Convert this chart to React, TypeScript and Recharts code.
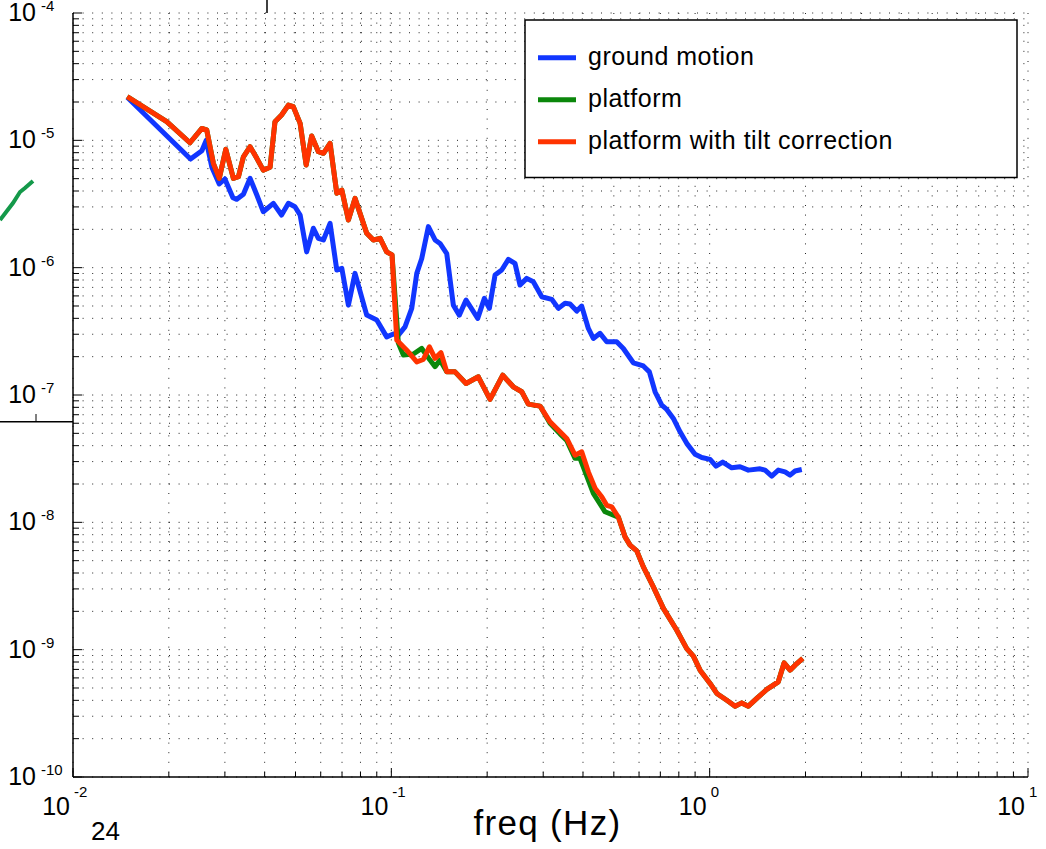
import React from 'react';
import { LineChart, Line, XAxis, YAxis, CartesianGrid, Legend } from 'recharts';

// [freq Hz, amplitude]
const groundMotion: [number, number][] = [
  [0.0148, 2.18e-5], [0.0234, 7.13e-6], [0.0254, 8.29e-6], [0.0262, 1.0e-5], [0.0273, 6.14e-6],
  [0.0288, 4.54e-6], [0.03, 4.97e-6], [0.0318, 3.54e-6], [0.0327, 3.44e-6], [0.0343, 3.77e-6],
  [0.036, 5.03e-6], [0.0378, 3.72e-6], [0.0396, 2.75e-6], [0.0426, 3.2e-6], [0.0452, 2.59e-6],
  [0.0475, 3.2e-6], [0.0498, 3.01e-6], [0.0517, 2.59e-6], [0.0542, 1.33e-6], [0.0569, 2.04e-6],
  [0.059, 1.7e-6], [0.0612, 1.65e-6], [0.0642, 2.23e-6], [0.0674, 9.58e-7], [0.0699, 9.87e-7],
  [0.0733, 5.08e-7], [0.0769, 9.02e-7], [0.0837, 4.24e-7], [0.09, 3.88e-7], [0.0967, 2.86e-7],
  [0.1015, 3.01e-7], [0.1052, 2.95e-7], [0.1104, 3.43e-7], [0.1159, 4.79e-7], [0.1202, 9.02e-7],
  [0.1246, 1.18e-6], [0.1307, 2.1e-6], [0.1372, 1.65e-6], [0.1422, 1.55e-6], [0.1493, 1.29e-6],
  [0.1566, 5.08e-7], [0.1635, 4.24e-7], [0.1717, 5.57e-7], [0.1868, 4.0e-7], [0.196, 5.74e-7],
  [0.2032, 4.79e-7], [0.2117, 8.75e-7], [0.2222, 9.58e-7], [0.2332, 1.16e-6], [0.2446, 1.08e-6],
  [0.2537, 7.3e-7], [0.2663, 8.24e-7], [0.2793, 7.75e-7], [0.2969, 5.91e-7], [0.319, 5.64e-7],
  [0.3347, 4.79e-7], [0.3513, 5.25e-7], [0.3642, 5.18e-7], [0.3824, 4.56e-7], [0.3963, 4.99e-7],
  [0.4158, 3.33e-7], [0.4311, 2.78e-7], [0.4525, 3.05e-7], [0.475, 2.62e-7], [0.5105, 2.62e-7],
  [0.5356, 2.32e-7], [0.5757, 1.79e-7], [0.6189, 1.69e-7], [0.6465, 1.52e-7], [0.6738, 1.06e-7],
  [0.7071, 8.33e-8], [0.7331, 7.7e-8], [0.7691, 6.55e-8], [0.8072, 5.14e-8], [0.8472, 4.17e-8],
  [0.8997, 3.43e-8], [0.9445, 3.23e-8], [1.003, 3.12e-8], [1.047, 2.76e-8], [1.099, 2.97e-8],
  [1.173, 2.68e-8], [1.246, 2.73e-8], [1.323, 2.57e-8], [1.44, 2.63e-8], [1.493, 2.57e-8],
  [1.567, 2.31e-8], [1.643, 2.57e-8], [1.725, 2.49e-8], [1.789, 2.35e-8], [1.855, 2.53e-8],
  [1.947, 2.6e-8],
];

const platform: [number, number][] = [
  [0.0148, 2.2e-5], [0.0197, 1.4e-5], [0.0233, 9.57e-6], [0.0254, 1.24e-5], [0.0263, 1.21e-5],
  [0.0276, 6.6e-6], [0.0288, 5.03e-6], [0.0302, 8.5e-6], [0.0319, 5.03e-6], [0.0331, 5.18e-6],
  [0.0343, 7.43e-6], [0.036, 8.91e-6], [0.0378, 7.22e-6], [0.0396, 5.84e-6], [0.0416, 6.14e-6],
  [0.0431, 1.4e-5], [0.0452, 1.58e-5], [0.0475, 1.89e-5], [0.0492, 1.84e-5], [0.0517, 1.36e-5],
  [0.054, 6.4e-6], [0.0562, 1.08e-5], [0.059, 8.14e-6], [0.0612, 7.91e-6], [0.0642, 9.47e-6],
  [0.0674, 3.84e-6], [0.0699, 4.07e-6], [0.0733, 2.37e-6], [0.0769, 3.5e-6], [0.0837, 1.86e-6],
  [0.0878, 1.65e-6], [0.0922, 1.7e-6], [0.0967, 1.33e-6], [0.1005, 1.26e-6], [0.1052, 2.56e-7],
  [0.1091, 2.06e-7], [0.1173, 2.1e-7], [0.1246, 2.32e-7], [0.1323, 1.88e-7], [0.1372, 1.67e-7],
  [0.1422, 1.88e-7], [0.1493, 1.52e-7], [0.1585, 1.52e-7], [0.1717, 1.23e-7], [0.1876, 1.39e-7],
  [0.2042, 9.23e-8], [0.2239, 1.43e-7], [0.2416, 1.16e-7], [0.2569, 1.06e-7], [0.2694, 8.48e-8],
  [0.2932, 8.18e-8], [0.3151, 6.0e-8], [0.3388, 4.95e-8], [0.3556, 4.4e-8], [0.3776, 3.18e-8],
  [0.3915, 3.18e-8], [0.4311, 1.69e-8], [0.4692, 1.21e-8], [0.5165, 1.1e-8], [0.5423, 7.69e-9],
  [0.5622, 6.62e-9], [0.5902, 5.97e-9], [0.6189, 4.47e-9], [0.6654, 3.11e-9], [0.7155, 2.11e-9],
  [0.7882, 1.42e-9], [0.8472, 1.02e-9], [0.8888, 8.89e-10], [0.9328, 6.9e-10], [1.003, 5.43e-10],
  [1.053, 4.53e-10], [1.132, 4.01e-10], [1.202, 3.6e-10], [1.261, 3.82e-10], [1.323, 3.6e-10],
  [1.406, 4.14e-10], [1.512, 4.87e-10], [1.643, 5.59e-10], [1.713, 7.87e-10], [1.789, 6.9e-10],
  [1.855, 7.56e-10], [1.961, 8.53e-10],
];

const platformTilt: [number, number][] = [
  [0.0148, 2.2e-5], [0.0197, 1.4e-5], [0.0233, 9.57e-6], [0.0254, 1.24e-5], [0.0263, 1.21e-5],
  [0.0276, 6.6e-6], [0.0288, 5.03e-6], [0.0302, 8.5e-6], [0.0319, 5.03e-6], [0.0331, 5.18e-6],
  [0.0343, 7.43e-6], [0.036, 8.91e-6], [0.0378, 7.22e-6], [0.0396, 5.84e-6], [0.0416, 6.14e-6],
  [0.0431, 1.4e-5], [0.0452, 1.58e-5], [0.0475, 1.89e-5], [0.0492, 1.84e-5], [0.0517, 1.36e-5],
  [0.054, 6.4e-6], [0.0562, 1.08e-5], [0.059, 8.14e-6], [0.0612, 7.91e-6], [0.0642, 9.47e-6],
  [0.0674, 3.84e-6], [0.0699, 4.07e-6], [0.0733, 2.37e-6], [0.0769, 3.5e-6], [0.0837, 1.86e-6],
  [0.0878, 1.65e-6], [0.0922, 1.7e-6], [0.0967, 1.33e-6], [0.1005, 1.26e-6], [0.104, 2.7e-7],
  [0.1118, 2.25e-7], [0.1202, 1.82e-7], [0.126, 1.9e-7], [0.1317, 2.39e-7], [0.1372, 1.94e-7],
  [0.1432, 2.15e-7], [0.1493, 1.52e-7], [0.1585, 1.52e-7], [0.1717, 1.23e-7], [0.1876, 1.39e-7],
  [0.2042, 9.23e-8], [0.2239, 1.43e-7], [0.2416, 1.16e-7], [0.2569, 1.06e-7], [0.2694, 8.48e-8],
  [0.2932, 8.18e-8], [0.3151, 6.16e-8], [0.3388, 5.14e-8], [0.3556, 4.56e-8], [0.3776, 3.37e-8],
  [0.3963, 3.58e-8], [0.4158, 2.49e-8], [0.4365, 1.85e-8], [0.4581, 1.59e-8], [0.475, 1.36e-8],
  [0.4926, 1.32e-8], [0.5165, 1.1e-8], [0.5423, 7.69e-9], [0.5622, 6.62e-9], [0.5902, 5.97e-9],
  [0.6189, 4.47e-9], [0.6654, 3.11e-9], [0.7155, 2.11e-9], [0.7882, 1.42e-9], [0.8472, 1.02e-9],
  [0.8888, 8.89e-10], [0.9328, 6.9e-10], [1.003, 5.43e-10], [1.053, 4.53e-10], [1.132, 4.01e-10],
  [1.202, 3.6e-10], [1.261, 3.82e-10], [1.323, 3.6e-10], [1.406, 4.14e-10], [1.512, 4.87e-10],
  [1.643, 5.59e-10], [1.713, 7.87e-10], [1.789, 6.9e-10], [1.855, 7.56e-10], [1.961, 8.53e-10],
];

const seriesNames = ['ground motion', 'platform', 'platform with tilt correction'];
const seriesColors = ['#1136ff', '#0b870b', '#ff3300'];

const xDecades = [-2, -1, 0, 1];
const yDecades = [-10, -9, -8, -7, -6, -5, -4];
const xLabel = 'freq (Hz)';

const FONT = '"Liberation Sans", Arial, Helvetica, sans-serif';

// major + minor (1..9) positions for ticks and the dotted grid
function logTicks(decades: number[]) {
  const out: number[] = [];
  decades.forEach((d, i) => {
    const steps = i === decades.length - 1 ? [1] : [1, 2, 3, 4, 5, 6, 7, 8, 9];
    steps.forEach((k) => out.push(Number((k * Math.pow(10, d)).toPrecision(3))));
  });
  return out;
}
const xTicks = logTicks(xDecades);
const yTicks = logTicks(yDecades);

const isDecade = (v: number) => Math.abs(Math.log10(v) - Math.round(Math.log10(v))) < 1e-6;
const expOf = (v: number) => String(Math.round(Math.log10(v)));

const toPoints = (arr: [number, number][]) => arr.map(([f, v]) => ({ f, v }));

function BottomTick({ x, y, payload }: any) {
  const v = payload.value;
  const major = isDecade(v);
  return (
    <g>
      <line x1={x} y1={y} x2={x} y2={y - (major ? 9 : 5)} stroke="#000" strokeWidth={1} />
      {major && (
        <g fontFamily={FONT} fill="#000">
          <text x={x - 3} y={y + 38} textAnchor="end" fontSize={25}>10</text>
          <text x={x + 1} y={y + 20} textAnchor="start" fontSize={15}>{expOf(v)}</text>
        </g>
      )}
    </g>
  );
}

function TopTick({ x, y, payload }: any) {
  const major = isDecade(payload.value);
  return <line x1={x} y1={y} x2={x} y2={y + (major ? 9 : 5)} stroke="#000" strokeWidth={1} />;
}

function LeftTick({ x, y, payload }: any) {
  const v = payload.value;
  const major = isDecade(v);
  return (
    <g>
      <line x1={x} y1={y} x2={x + (major ? 9 : 6)} y2={y} stroke="#000" strokeWidth={1} />
      {major && (
        <g fontFamily={FONT} fill="#000">
          <text x={x - 37} y={y + 8} textAnchor="end" fontSize={25}>10</text>
          <text x={x - 32} y={y - 2} textAnchor="start" fontSize={15}>{expOf(v)}</text>
        </g>
      )}
    </g>
  );
}

function RightTick({ x, y, payload }: any) {
  const major = isDecade(payload.value);
  return <line x1={x} y1={y} x2={x - (major ? 9 : 6)} y2={y} stroke="#000" strokeWidth={1} />;
}

function AxisTitle({ viewBox }: any) {
  const { x, y, width } = viewBox;
  return (
    <text x={x + width / 2 - 3} y={y + 58} textAnchor="middle" fontSize={35} letterSpacing={1.3} fontFamily={FONT} fill="#000">
      {xLabel}
    </text>
  );
}

function LegendBox() {
  return (
    <svg width={496} height={161} style={{ display: 'block' }}>
      <rect x={1} y={1} width={492} height={157.5} fill="#fff" stroke="#000" strokeWidth={1.5} />
      {seriesNames.map((name, i) => (
        <g key={name}>
          <line x1={14} x2={52} y1={38.7 + 42 * i} y2={38.7 + 42 * i} stroke={seriesColors[i]} strokeWidth={5} />
          <text x={64} y={46 + 42 * i} fontSize={25} letterSpacing={0.5} fontFamily={FONT} fill="#000">
            {name}
          </text>
        </g>
      ))}
    </svg>
  );
}

const axisLine = { stroke: '#000', strokeWidth: 1.5 };

export default function App() {
  const series = [groundMotion, platform, platformTilt];
  return (
    <div style={{ position: 'absolute', left: 0, top: 0, width: 1046, height: 849, background: '#fff' }}>
      <LineChart width={1046} height={849} margin={{ top: 13, right: 18, bottom: 0, left: 13 }}>
        <CartesianGrid
          verticalValues={xTicks}
          horizontalValues={yTicks}
          stroke="#222"
          strokeWidth={1}
          strokeDasharray="1 8.6"
        />
        <XAxis
          dataKey="f"
          type="number"
          scale="log"
          domain={[0.01, 10]}
          allowDataOverflow
          ticks={xTicks}
          interval={0}
          height={72}
          tickSize={0}
          tickMargin={0}
          tickLine={false}
          axisLine={axisLine}
          tick={(p: any) => <BottomTick {...p} />}
          label={<AxisTitle />}
        />
        <XAxis
          xAxisId="top"
          orientation="top"
          dataKey="f"
          type="number"
          scale="log"
          domain={[0.01, 10]}
          allowDataOverflow
          ticks={xTicks}
          interval={0}
          height={0}
          tickSize={0}
          tickMargin={0}
          tickLine={false}
          axisLine={axisLine}
          tick={(p: any) => <TopTick {...p} />}
        />
        <YAxis
          dataKey="v"
          type="number"
          scale="log"
          domain={[1e-10, 1e-4]}
          allowDataOverflow
          ticks={yTicks}
          interval={0}
          width={60}
          tickSize={0}
          tickMargin={0}
          tickLine={false}
          axisLine={axisLine}
          tick={(p: any) => <LeftTick {...p} />}
        />
        <YAxis
          yAxisId="right"
          orientation="right"
          dataKey="v"
          type="number"
          scale="log"
          domain={[1e-10, 1e-4]}
          allowDataOverflow
          ticks={yTicks}
          interval={0}
          width={0}
          tickSize={0}
          tickMargin={0}
          tickLine={false}
          axisLine={axisLine}
          tick={(p: any) => <RightTick {...p} />}
        />
        <Legend
          layout="horizontal"
          verticalAlign="middle"
          align="center"
          content={() => <LegendBox />}
          wrapperStyle={{ position: 'absolute', left: 524, top: 19, width: 496, height: 161, margin: 0 }}
        />
        {series.map((s, i) => (
          <Line
            key={seriesNames[i]}
            name={seriesNames[i]}
            data={toPoints(s)}
            dataKey="v"
            type="linear"
            stroke={seriesColors[i]}
            strokeWidth={5}
            strokeLinejoin="round"
            dot={false}
            activeDot={false}
            isAnimationActive={false}
          />
        ))}
      </LineChart>
      {/* leftovers of a neighbouring figure in the original image */}
      <svg
        width={1046}
        height={849}
        style={{ position: 'absolute', left: 0, top: 0, pointerEvents: 'none' }}
      >
        <line x1={0} y1={421.7} x2={73} y2={421.7} stroke="#000" strokeWidth={1.5} />
        <line x1={36} y1={414} x2={36} y2={421.7} stroke="#000" strokeWidth={1} />
        <line x1={267} y1={0} x2={267} y2={13} stroke="#000" strokeWidth={1.5} />
        <polyline points="0,220 13,203 20,192 25,188 33,181" fill="none" stroke="#14994a" strokeWidth={4} />
        <text x={91} y={840} fontSize={26} fontFamily={FONT} fill="#000">24</text>
      </svg>
    </div>
  );
}
